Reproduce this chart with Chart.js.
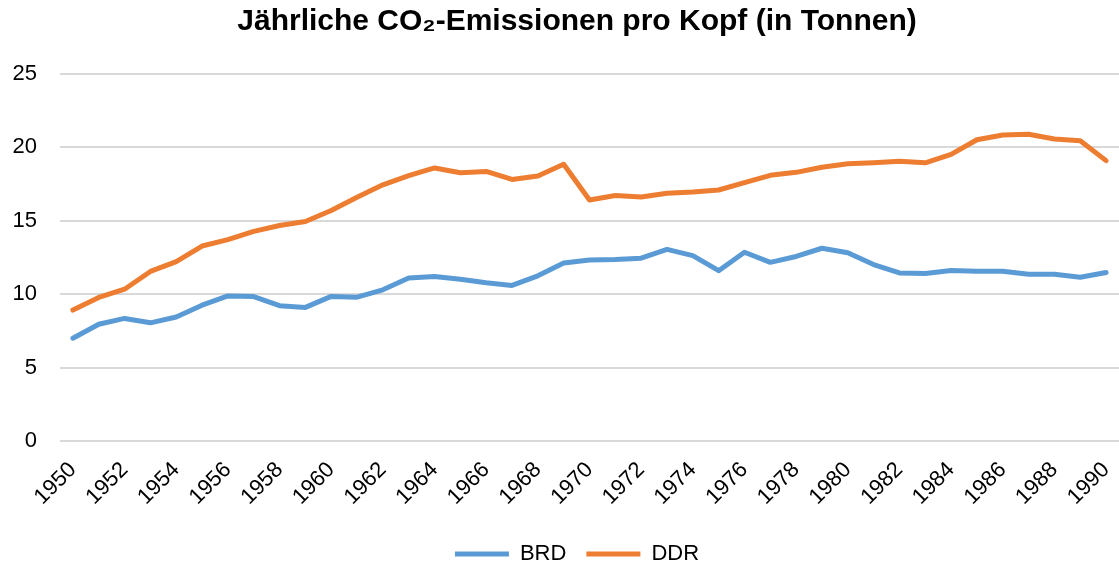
<!DOCTYPE html>
<html lang="de">
<head>
<meta charset="utf-8">
<title>Jährliche CO2-Emissionen pro Kopf</title>
<script src="https://cdn.jsdelivr.net/npm/chart.js@4"></script>
<style>
  body { margin: 0; background: #fff; }
  #wrap { width: 1119px; height: 563px; position: relative; }
</style>
</head>
<body>
<div id="wrap"><canvas id="emissionen"></canvas></div>
<script>
const jahre = ["1950","1951","1952","1953","1954","1955","1956","1957","1958","1959",
	"1960","1961","1962","1963","1964","1965","1966","1967","1968","1969",
	"1970","1971","1972","1973","1974","1975","1976","1977","1978","1979",
	"1980","1981","1982","1983","1984","1985","1986","1987","1988","1989","1990"]

// Tonnen pro Kopf
const brd = [7.0, 7.95, 8.35, 8.05, 8.45, 9.25, 9.88, 9.84, 9.22, 9.1,
	9.85, 9.8, 10.3, 11.1, 11.2, 11.02, 10.78, 10.6, 11.25, 12.12,
	12.33, 12.36, 12.45, 13.05, 12.63, 11.6, 12.86, 12.17, 12.57, 13.13,
	12.82, 12.02, 11.45, 11.41, 11.62, 11.57, 11.57, 11.36, 11.36, 11.16, 11.48]

const ddr = [8.92, 9.78, 10.34, 11.55, 12.22, 13.28, 13.72, 14.28, 14.68, 14.95,
	15.7, 16.6, 17.45, 18.08, 18.6, 18.27, 18.36, 17.82, 18.05, 18.85,
	16.42, 16.72, 16.62, 16.88, 16.96, 17.1, 17.6, 18.1, 18.3, 18.65,
	18.88, 18.96, 19.05, 18.95, 19.52, 20.52, 20.84, 20.9, 20.57, 20.46, 19.1]

const blau = "#5b9bd5"
const orange = "#ed7d31"
const schrift = "'Liberation Sans', Arial, Helvetica, sans-serif"

const ctx = document.getElementById("emissionen")

new Chart(ctx, {
	type: 'line',
	data: {
		labels: jahre,
		datasets: [{
			label: 'BRD',
			data: brd,
			borderColor: blau,
			backgroundColor: blau,
			borderWidth: 5,
			borderCapStyle: 'round',
			borderJoinStyle: 'round',
			pointRadius: 0,
			tension: 0
		}, {
			label: 'DDR',
			data: ddr,
			borderColor: orange,
			backgroundColor: orange,
			borderWidth: 5,
			borderCapStyle: 'round',
			borderJoinStyle: 'round',
			pointRadius: 0,
			tension: 0
		}]
	},
	options: {
		responsive: true,
		maintainAspectRatio: false,
		animation: false,
		layout: {
			// rechts negativ, damit Titel und Legende wie im Original leicht rechts sitzen
			padding: { left: 12, right: -23, top: 0, bottom: -12 }
		},
		plugins: {
			title: {
				display: true,
				text: 'Jährliche CO₂-Emissionen pro Kopf (in Tonnen)',
				color: '#000',
				font: { family: schrift, size: 30, weight: 'bold' },
				padding: { top: 4, bottom: 34 }
			},
			legend: {
				position: 'bottom',
				labels: {
					usePointStyle: true,
					pointStyle: 'line',
					pointStyleWidth: 54,
					color: '#000',
					padding: 20,
					font: { family: schrift, size: 22 }
				}
			},
			tooltip: { enabled: false }
		},
		scales: {
			x: {
				offset: true,
				grid: { display: false },
				border: { display: false },
				ticks: {
					autoSkip: false,
					minRotation: 45,
					maxRotation: 45,
					color: '#000',
					padding: 8,
					font: { family: schrift, size: 22 },
					callback: (wert, i) => i % 2 === 0 ? jahre[i] : ''
				},
				afterFit: (achse) => {
					achse.paddingLeft = 0
					achse.paddingRight = 0
					achse.height = 82
				}
			},
			y: {
				min: 0,
				max: 25,
				border: { display: false },
				grid: { color: '#d9d9d9', lineWidth: 2, drawTicks: false },
				ticks: {
					stepSize: 5,
					color: '#000',
					padding: 23,
					font: { family: schrift, size: 22 }
				},
				afterFit: (achse) => {
					achse.width = 48
				}
			}
		}
	}
})
</script>
</body>
</html>
